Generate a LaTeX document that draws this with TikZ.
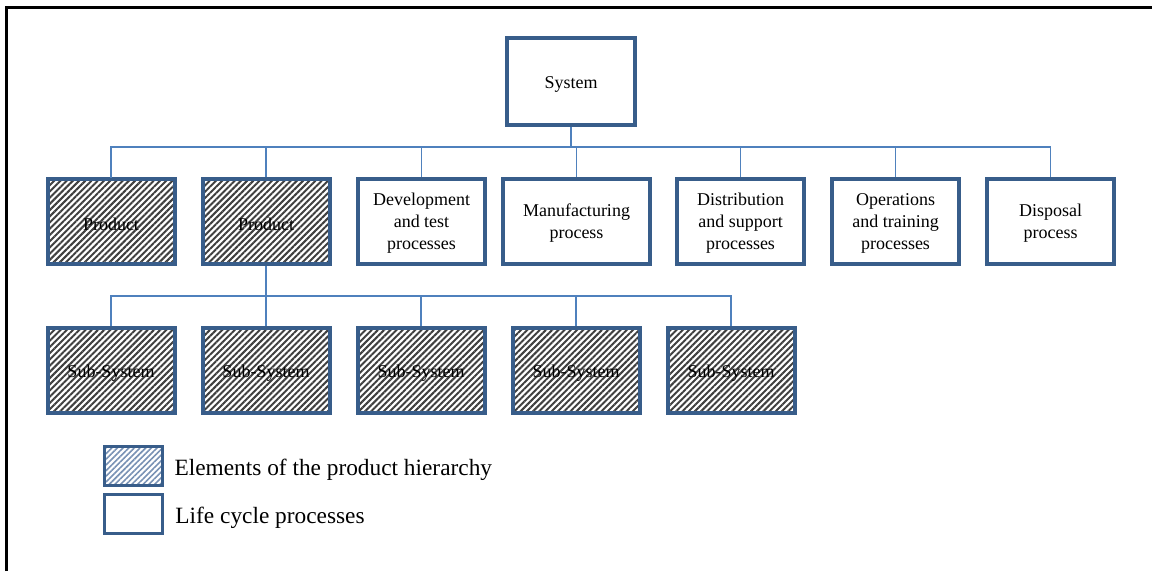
\documentclass[tikz,border=0pt]{standalone}
\usepackage{fontspec}
\setmainfont{Liberation Serif}
\usetikzlibrary{patterns.meta, positioning}
\definecolor{boxblue}{RGB}{56,93,138}
\definecolor{linkblue}{RGB}{79,129,189}
\definecolor{keyhatch}{RGB}{120,145,180}
\tikzset{%
	boxbase/.style = {
		rectangle, draw=boxblue, line width=3pt,
		minimum width=95.25pt, minimum height=63.75pt,
		align=center, inner sep=2pt,
		execute at begin node={\rule{0pt}{13.7pt}},
		font=\fontsize{13.5}{16.5}\selectfont
	},
	proc/.style = {
		boxbase, fill=white
	},
	multi/.style = {
		text depth=-1.6pt
	},
	hier/.style = {
		boxbase,
		pattern={Lines[angle=45, distance=3.3pt, line width=1.5pt]},
		pattern color=black!75
	},
	keybox/.style = {
		rectangle, draw=boxblue, line width=2.5pt,
		minimum width=43.5pt, minimum height=29pt
	},
	keytext/.style = {
		inner sep=0pt, anchor=west, yshift=-3pt,
		font=\fontsize{17.5}{20}\selectfont
	},
	link/.style = {draw=linkblue, line width=0.8pt}
}

\begin{document}
\begin{tikzpicture}[x=0.75pt, y=-0.75pt]
    \useasboundingbox (0,0) rectangle (1152,571);
    % frame
    \draw[line width=2.25pt] (6.5,571) -- (6.5,7) -- (1152,7);

    % top of the tree
    \node (system)    [proc, minimum width=96pt, minimum height=65.25pt] at (571,81.5) {System};

    % first level
    \node (prodA)     [hier]                          at (111,221.5)   {Product};
    \node (prodB)     [hier]                          at (266,221.5)   {Product};
    \node (devel)     [proc, multi]                   at (421.5,221.5) {Development\\and test\\processes};
    \node (manuf)     [proc, multi, minimum width=110.25pt] at (576.5,221.5) {Manufacturing\\process};
    \node (distrib)   [proc, multi]                   at (740.5,221.5) {Distribution\\and support\\processes};
    \node (oper)      [proc, multi]                   at (895.5,221.5) {Operations\\and training\\processes};
    \node (dispos)    [proc, multi]                   at (1050.5,221.5) {Disposal\\process};

    % second level
    \node (subA)      [hier]                          at (111,370)     {Sub-System};
    \node (subB)      [hier]                          at (266,370)     {Sub-System};
    \node (subC)      [hier]                          at (421,370)     {Sub-System};
    \node (subD)      [hier]                          at (576,370)     {Sub-System};
    \node (subE)      [hier]                          at (731,370)     {Sub-System};

    % connectors
    \coordinate (bus)    at (571,147);
    \coordinate (subbus) at (266,296);
    \draw[link]       (system.south) -- (bus);
    \foreach \n in {prodA, prodB, devel, manuf, distrib, oper, dispos}
        \draw[link]   (bus) -| (\n.north);
    \draw[link]       (prodB.south) -- (subbus);
    \foreach \n in {subA, subB, subC, subD, subE}
        \draw[link]   (subbus) -| (\n.north);

    % legend
    \node (keyhier)   [keybox, pattern={Lines[angle=45, distance=3pt, line width=1.2pt]}, pattern color=keyhatch] at (133.5,466) {};
    \node (keyproc)   [keybox]                        at (133.5,514)   {};
    \node (keyhierlbl) [keytext, right=8.25pt of keyhier] {Elements of the product hierarchy};
    \node (keyproclbl) [keytext, right=8.25pt of keyproc] {Life cycle processes};

\end{tikzpicture}
\end{document}
